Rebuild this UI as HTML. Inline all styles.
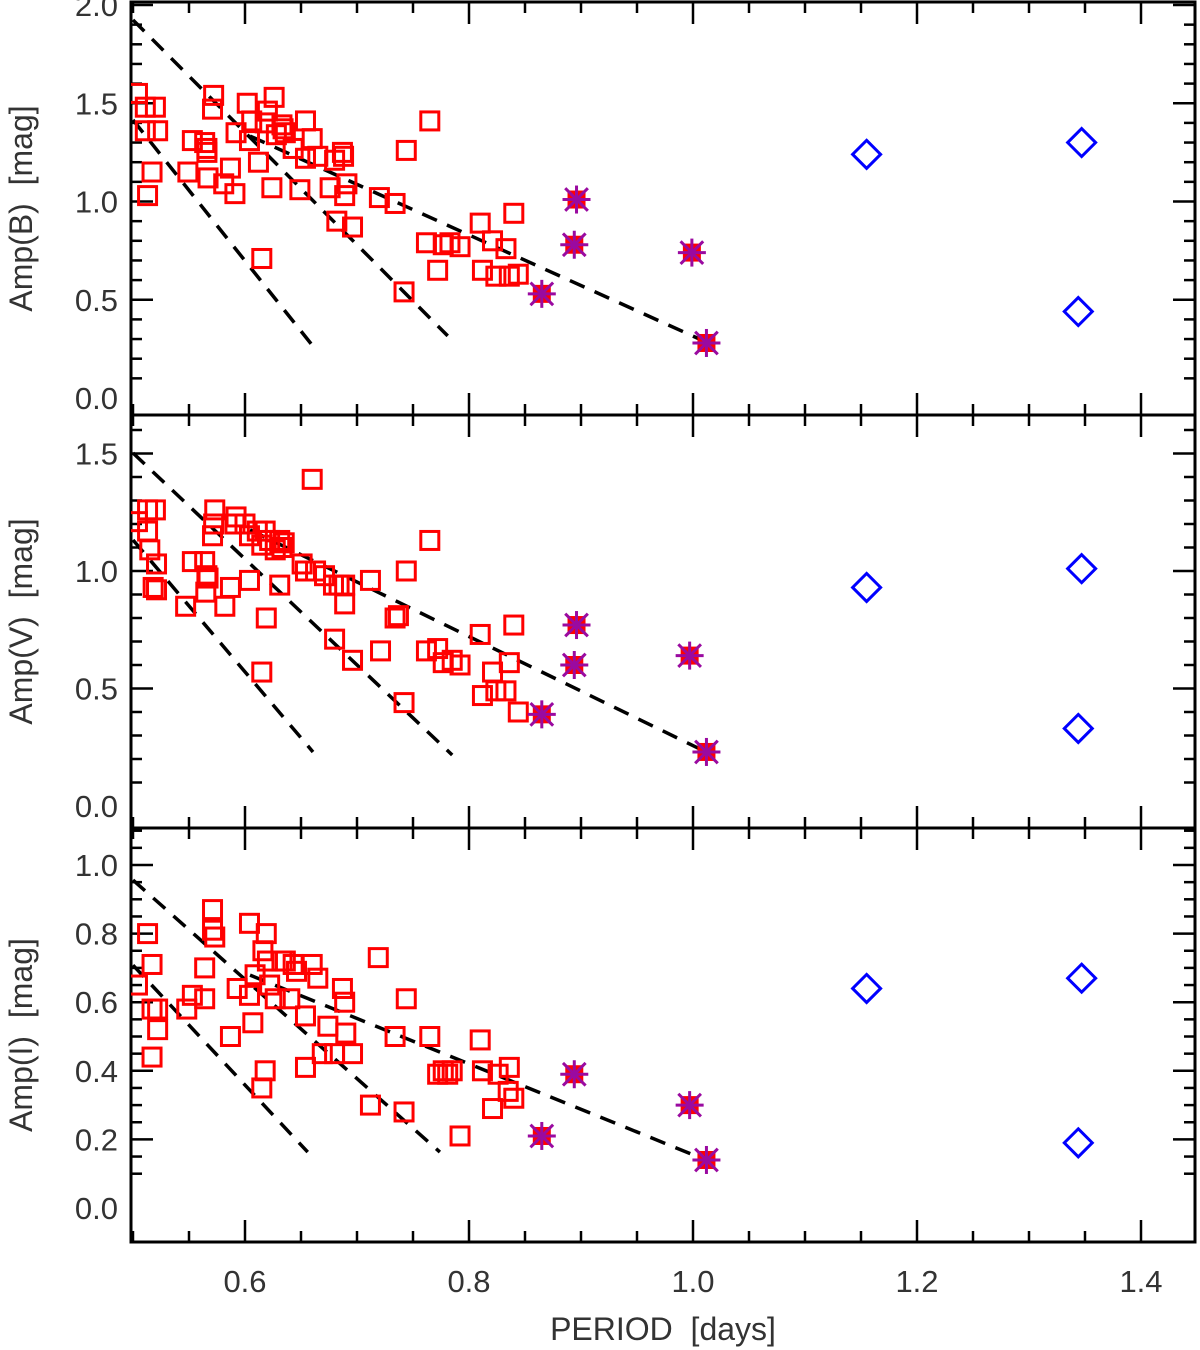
<!DOCTYPE html>
<html><head><meta charset="utf-8"><style>
html,body{margin:0;padding:0;background:#fff}
svg{display:block}
text{font-family:"Liberation Sans","DejaVu Sans",sans-serif;fill:#333;white-space:pre}
</style></head><body>
<svg id="chart" width="1200" height="1350" viewBox="0 0 1200 1350" xmlns="http://www.w3.org/2000/svg"></svg>
<script>
// ---- data ----
const xTicks=[0.6,0.8,1.0,1.2,1.4];
const xTickLabels=["0.6","0.8","1.0","1.2","1.4"];
const bTicks=[0.0,0.5,1.0,1.5,2.0];
const vTicks=[0.0,0.5,1.0,1.5];
const iTicks=[0.0,0.2,0.4,0.6,0.8,1.0];
const bP=[.504,.511,.520,.511,.522,.517,.513,.549,.553,.564,.566,.566,.571,.572,.567,.581,.587,.591,.592,.602,.606,.604,.612,.615,.618,.620,.624,.626,.628,.633,.634,.636,.643,.649,.654,.654,.660,.665,.676,.680,.687,.688,.689,.691,.682,.696,.720,.734,.744,.765,.742,.762,.772,.777,.783,.792,.810,.812,.821,.824,.833,.836,.840,.844];
const bA=[1.55,1.48,1.48,1.36,1.36,1.15,1.03,1.15,1.31,1.30,1.27,1.25,1.47,1.54,1.12,1.09,1.17,1.04,1.35,1.50,1.41,1.31,1.20,0.71,1.40,1.46,1.07,1.53,1.34,1.39,1.37,1.35,1.27,1.06,1.41,1.22,1.32,1.23,1.07,1.21,1.25,1.23,1.03,1.09,0.90,0.87,1.02,0.99,1.26,1.41,0.54,0.79,0.65,0.78,0.79,0.77,0.89,0.65,0.80,0.62,0.76,0.62,0.94,0.63];
const bStarP=[.865,.896,.894,.999,1.012];
const bStarA=[.53,1.01,.78,.74,.28];
const bDiaP=[1.155,1.347,1.344];
const bDiaA=[1.24,1.30,0.44];
const vP=[.504,.513,.513,.520,.515,.521,.521,.518,.547,.553,.564,.566,.567,.565,.573,.572,.571,.582,.587,.592,.591,.604,.615,.619,.600,.604,.611,.615,.618,.622,.627,.631,.631,.633,.635,.651,.654,.660,.663,.671,.679,.680,.684,.689,.689,.696,.712,.721,.734,.737,.742,.744,.765,.762,.772,.777,.785,.792,.810,.812,.821,.824,.833,.836,.840,.844];
const vA=[1.21,1.26,1.17,1.26,1.09,1.03,0.92,0.93,0.85,1.04,1.04,0.98,0.97,0.91,1.26,1.20,1.15,0.85,0.93,1.23,1.20,0.96,0.57,0.80,1.20,1.15,1.17,1.11,1.17,1.13,1.09,1.13,0.94,1.10,1.12,1.03,1.00,1.39,1.00,0.98,0.94,0.71,0.94,0.94,0.86,0.62,0.96,0.66,0.80,0.81,0.44,1.00,1.13,0.66,0.67,0.61,0.62,0.60,0.73,0.47,0.57,0.49,0.49,0.61,0.77,0.40];
const vStarP=[.865,.896,.894,.997,1.012];
const vStarA=[.39,.77,.60,.64,.23];
const vDiaP=[1.155,1.347,1.344];
const vDiaA=[.93,1.01,.33];
const iP=[.504,.513,.517,.517,.522,.522,.517,.548,.553,.564,.564,.571,.571,.573,.587,.593,.604,.604,.607,.609,.615,.618,.616,.619,.620,.622,.627,.633,.636,.640,.643,.646,.654,.654,.660,.665,.669,.674,.680,.687,.689,.690,.696,.712,.719,.734,.742,.744,.765,.772,.777,.781,.785,.792,.810,.812,.821,.826,.835,.836,.840];
const iA=[.65,.80,.71,.58,.58,.52,.44,.58,.62,.61,.70,.87,.81,.79,.50,.64,.83,.62,.54,.68,.35,.40,.75,.80,.72,.65,.61,.72,.72,.61,.71,.69,.41,.56,.71,.67,.45,.53,.45,.64,.60,.51,.45,.30,.73,.50,.28,.61,.50,.39,.40,.39,.40,.21,.49,.40,.29,.39,.34,.41,.32];
const iStarP=[.865,.894,.997,1.012];
const iStarA=[.21,.39,.30,.14];
const iDiaP=[1.155,1.347,1.344];
const iDiaA=[.64,.67,.19];
// dashed loci: [p0,a0,p1,a1]
const bLines=[[0.5,1.924,0.781,0.316],[0.6045,1.333,1.0116,0.285],[0.5,1.415,0.6598,0.270]];
const vLines=[[0.5,1.502,0.785,0.217],[0.6045,1.175,1.0116,0.230],[0.5,1.132,0.6607,0.230]];
const iLines=[[0.5,0.956,0.774,0.163],[0.6045,0.679,1.0116,0.14],[0.5,0.708,0.656,0.163]];

// ---- layout ----
const svg=document.getElementById('chart');
const NS='http://www.w3.org/2000/svg';
const X0=131,X1=1195;
const xMax=0.5+(X1-133)/1120;
function xs(p){return 133+(p-0.5)*1120;}
function mk(tag,attrs,parent){const e=document.createElementNS(NS,tag);for(const k in attrs)e.setAttribute(k,attrs[k]);(parent||svg).appendChild(e);return e;}

const panels=[
 {name:'b',title:'Amp(B)  [mag]',top:2,bot:415,y0:398,k:196.5,ticks:bTicks,minor:0.1,P:bP,A:bA,sP:bStarP,sA:bStarA,dP:bDiaP,dA:bDiaA,L:bLines},
 {name:'v',title:'Amp(V)  [mag]',top:415,bot:828,y0:806,k:235,ticks:vTicks,minor:0.1,P:vP,A:vA,sP:vStarP,sA:vStarA,dP:vDiaP,dA:vDiaA,L:vLines},
 {name:'i',title:'Amp(I)  [mag]',top:828,bot:1242,y0:1208,k:343,ticks:iTicks,minor:0.05,P:iP,A:iA,sP:iStarP,sA:iStarA,dP:iDiaP,dA:iDiaA,L:iLines}
];

panels.forEach((pn,idx)=>{
 const g=mk('g',{});
 
 
 const ys=a=>pn.y0-a*pn.k;
 const aMin=-(pn.y0-pn.bot)/pn.k*-1*-1, aMax=(pn.y0-pn.top)/pn.k;
 for(let a=Math.ceil(aMin/pn.minor)*pn.minor;a<=aMax+1e-9;a+=pn.minor){
   const y=ys(a);
   if(y<pn.top+1||y>pn.bot-1)continue;
   const major=pn.ticks.some(t=>Math.abs(t-a)<1e-6);
   const len=major?22:11;
   mk('line',{x1:X0,x2:X0+len,y1:y,y2:y,stroke:'#000','stroke-width':2.5},g);
   mk('line',{x1:X1-len,x2:X1,y1:y,y2:y,stroke:'#000','stroke-width':2.5},g);
 }
 pn.ticks.forEach(t=>{
   const y=ys(t);
   const tx=mk('text',{x:118,y:y+11,'text-anchor':'end','font-size':31},g);
   tx.textContent=t.toFixed(1);
   
   
 });
 for(let p=0.5;p<=xMax+1e-9;p+=0.05){
   const x=xs(p);if(x<X0+2||x>X1-2)continue;
   const major=xTicks.some(t=>Math.abs(t-p)<1e-6);
   const len=major?22:11;
   mk('line',{x1:x,x2:x,y1:pn.bot,y2:pn.bot-len,stroke:'#000','stroke-width':2.5},g);
   mk('line',{x1:x,x2:x,y1:pn.top,y2:pn.top+len,stroke:'#000','stroke-width':2.5},g);
 }
 const fr=mk('rect',{x:X0,y:pn.top,width:X1-X0,height:pn.bot-pn.top,fill:'none',stroke:'#000','stroke-width':3},g);
 
 
 const cy=(pn.top+pn.bot)/2;
 const tt=mk('text',{x:0,y:0,transform:`translate(32,${cy}) rotate(-90)`,'text-anchor':'middle','font-size':32},g);
 tt.textContent=pn.title;
 
 
 const cp=mk('clipPath',{id:'clip'+idx},g);
 mk('rect',{x:X0,y:pn.top,width:X1-X0,height:pn.bot-pn.top},cp);
 const dg=mk('g',{'clip-path':`url(#clip${idx})`},g);
 pn.L.forEach(l=>{
   const ln=mk('line',{x1:xs(l[0]),y1:ys(l[1]),x2:xs(l[2]),y2:ys(l[3]),stroke:'#000','stroke-width':3.5,'stroke-dasharray':'16 11'},dg);
   
   
 });
 pn.P.forEach((p,i)=>{
   const r=mk('rect',{x:xs(p)-9,y:ys(pn.A[i])-9,width:18,height:18,fill:'none',stroke:'#f00','stroke-width':3},dg);
   
   
 });
 pn.sP.forEach((p,i)=>{
   const x=xs(p),y=ys(pn.sA[i]);
   const sg=mk('g',{},dg);
   
   
   mk('rect',{x:x-9,y:y-9,width:18,height:18,fill:'#f00'},sg);
   for(let k=0;k<4;k++){
     const an=k*Math.PI/4, r=k%2?16:14;
     mk('line',{x1:x-r*Math.cos(an),y1:y-r*Math.sin(an),x2:x+r*Math.cos(an),y2:y+r*Math.sin(an),stroke:'#9a0aa0','stroke-width':3},sg);
   }
 });
 pn.dP.forEach((p,i)=>{
   const x=xs(p),y=ys(pn.dA[i]),r=14;
   const d=mk('polygon',{points:`${x},${y-r} ${x+r},${y} ${x},${y+r} ${x-r},${y}`,fill:'none',stroke:'#00f','stroke-width':3},dg);
   
   
 });
});
xTicks.forEach((t,i)=>{
  const tx=mk('text',{x:xs(t),y:1292,'text-anchor':'middle','font-size':31});
  tx.textContent=xTickLabels[i];
  
  
});
const xt=mk('text',{x:663,y:1340,'text-anchor':'middle','font-size':32});
xt.textContent='PERIOD  [days]';


</script>
</body></html>
